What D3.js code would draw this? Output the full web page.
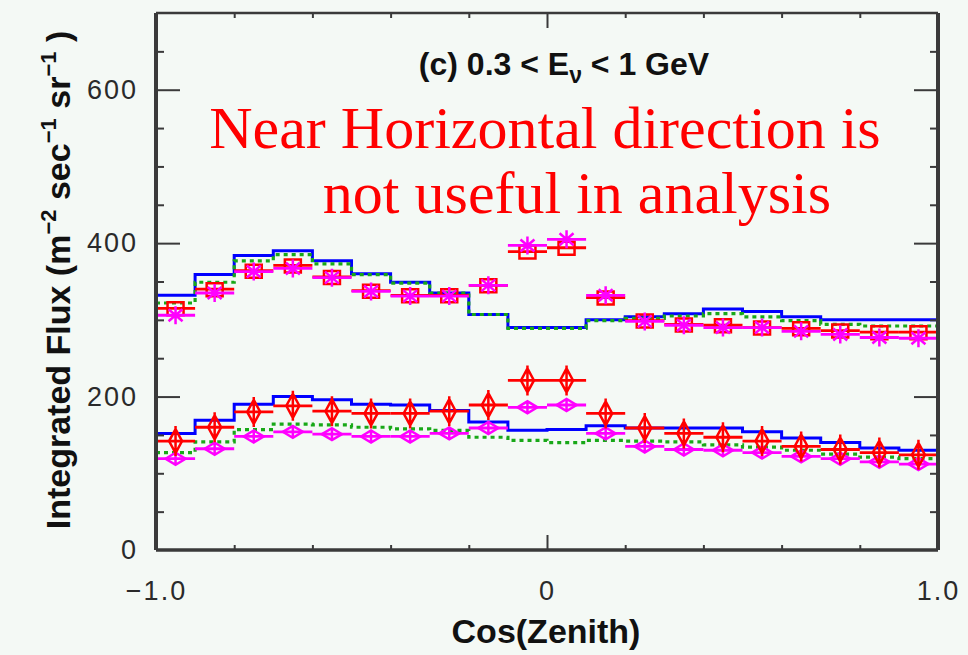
<!DOCTYPE html>
<html>
<head>
<meta charset="utf-8">
<script src="https://cdn.jsdelivr.net/npm/d3@7"></script>
<style>
  body { margin: 0; background: #f4f9f5; }
  svg { display: block; }
</style>
</head>
<body>
<div id="chart"></div>
<script>
// centres des bins en cos(zenith)
const cosZ = [-0.95, -0.85, -0.75, -0.65, -0.55, -0.45, -0.35, -0.25, -0.15, -0.05,
              0.05, 0.15, 0.25, 0.35, 0.45, 0.55, 0.65, 0.75, 0.85, 0.95];
const binHalf = 0.05;

// groupe du haut
const mcBlueUp   = [332, 359, 384, 390, 377, 360, 349, 335, 307, 290, 290, 300, 304, 308, 314, 311, 304, 300, 300, 300];
const mcGreenUp  = [322, 349, 377, 385, 373, 359, 348, 335, 307, 289, 289, 299, 302, 305, 308, 304, 299, 294, 292, 292];
const dataSquare = [315, 340, 364, 371, 356, 338, 332, 332, 345, 389, 394, 329, 299, 294, 293, 290, 289, 286, 284, 284];
const dataStar   = [306, 335, 363, 367, 355, 337, 331, 331, 345, 397, 405, 332, 298, 293, 290, 290, 285, 281, 277, 276];

// groupe du bas
const mcBlueLow  = [152, 169, 190, 200, 196, 190, 189, 182, 167, 156, 157, 162, 159, 159, 159, 154, 146, 140, 133, 130];
const mcGreenLow = [127, 141, 157, 164, 163, 160, 158, 156, 147, 143, 140, 143, 142, 141, 137, 134, 130, 125, 121, 119];
const dataDiaRed = [142, 160, 180, 188, 181, 178, 178, 181, 189, 221, 221, 178, 159, 152, 147, 142, 135, 131, 127, 124];
const dataDiaMag = [119, 132, 148, 154, 151, 148, 148, 152, 159, 186, 189, 152, 135, 131, 130, 127, 122, 119, 115, 112];

const xTickVals = [-1, 0, 1];
const xTickLabels = ["\u22121.0", "0", "1.0"];
const yTickVals = [0, 200, 400, 600];

const W = 968, H = 655;
const margin = { top: 13, right: 30, bottom: 105, left: 156 };
const width = W - margin.left - margin.right,
      height = H - margin.top - margin.bottom;

const svg = d3.select("#chart").append("svg")
    .attr("width", W)
    .attr("height", H)
    .style("background", "#f4f9f5");

const g = svg.append("g")
    .attr("transform", `translate(${margin.left},${margin.top})`);

const x = d3.scaleLinear().domain([-1, 1]).range([0, width]);
const y = d3.scaleLinear().domain([0, 700]).range([height, 0]);

// histogrammes en escalier
function stepPoints(vals) {
    const pts = [];
    vals.forEach((v, i) => {
        pts.push([cosZ[i] - binHalf, v]);
        pts.push([cosZ[i] + binHalf, v]);
    });
    return pts;
}
const stepLine = d3.line().x(d => x(d[0])).y(d => y(d[1]));

[mcBlueUp, mcBlueLow].forEach(vals => {
    g.append("path")
        .datum(stepPoints(vals))
        .attr("fill", "none")
        .attr("stroke", "#0000ff")
        .attr("stroke-width", 3)
        .attr("d", stepLine);
});
[mcGreenUp, mcGreenLow].forEach(vals => {
    g.append("path")
        .datum(stepPoints(vals))
        .attr("fill", "none")
        .attr("stroke", "#18a818")
        .attr("stroke-width", 3.2)
        .attr("stroke-dasharray", "4,4")
        .attr("d", stepLine);
});

// barres d'erreur horizontales + marqueurs
function drawPoints(vals, color, shape) {
    const grp = g.append("g");
    vals.forEach((v, i) => {
        grp.append("line")
            .attr("x1", x(cosZ[i] - binHalf))
            .attr("x2", x(cosZ[i] + binHalf))
            .attr("y1", y(v))
            .attr("y2", y(v))
            .attr("stroke", color)
            .attr("stroke-width", 2.8);
        grp.append("path")
            .attr("transform", `translate(${x(cosZ[i])},${y(v)})`)
            .attr("d", shape)
            .attr("fill", "none")
            .attr("stroke", color)
            .attr("stroke-width", 2.5);
    });
}

const squareShape = "M-8,-6H8V7H-8Z";
const starShape = "M-7,-6L7,6M-7,6L7,-6M0,-9V9";
const tallDiamond = "M0,-12L6.5,0L0,12L-6.5,0Z M0,-15V15";
const flatDiamond = "M-10,0L0,-6L10,0L0,6Z M0,-6V6";

drawPoints(dataSquare, "#ff0000", squareShape);
drawPoints(dataStar, "#ff00ff", starShape);
drawPoints(dataDiaMag, "#ff00ff", flatDiamond);
drawPoints(dataDiaRed, "#ff0000", tallDiamond);

// cadre
const frameColor = "#3a3a3a";
g.append("line").attr("x1", 0).attr("x2", width).attr("y1", 0).attr("y2", 0)
    .attr("stroke", frameColor).attr("stroke-width", 2.5);
g.append("line").attr("x1", 0).attr("x2", width).attr("y1", height).attr("y2", height)
    .attr("stroke", frameColor).attr("stroke-width", 3.5);
g.append("line").attr("x1", 0).attr("x2", 0).attr("y1", 0).attr("y2", height)
    .attr("stroke", frameColor).attr("stroke-width", 4);
g.append("line").attr("x1", width).attr("x2", width).attr("y1", 0).attr("y2", height)
    .attr("stroke", frameColor).attr("stroke-width", 4);

// graduations vers l'intérieur
function ticks(axis, transform, vals, size) {
    const a = g.append("g")
        .attr("transform", transform)
        .call(axis.tickValues(vals).tickSize(size).tickFormat(""));
    a.select(".domain").remove();
    a.selectAll("line").attr("stroke", frameColor).attr("stroke-width", 2);
}
const xMinor = [-0.8, -0.6, -0.4, -0.2, 0.2, 0.4, 0.6, 0.8];
ticks(d3.axisBottom(x), `translate(0,${height})`, xMinor, -5);
ticks(d3.axisBottom(x), `translate(0,${height})`, [0], -15);
ticks(d3.axisTop(x), "translate(0,0)", xMinor, -5);
ticks(d3.axisTop(x), "translate(0,0)", [0], -15);

const yMinor = d3.range(50, 700, 50).filter(v => v % 200 !== 0);
ticks(d3.axisLeft(y), "translate(0,0)", yMinor, -8);
ticks(d3.axisLeft(y), "translate(0,0)", [200, 400, 600], -24);
ticks(d3.axisRight(y), `translate(${width},0)`, yMinor, -8);
ticks(d3.axisRight(y), `translate(${width},0)`, [200, 400, 600], -24);

// libellés des axes
const xLab = g.append("g")
    .attr("transform", `translate(0,${height})`)
    .call(d3.axisBottom(x).tickValues(xTickVals).tickSize(0).tickPadding(31)
        .tickFormat((d, i) => xTickLabels[i]));
xLab.select(".domain").remove();
xLab.selectAll("text")
    .style("font-family", "Liberation Sans, Arial, sans-serif")
    .style("font-size", "27px")
    .style("letter-spacing", "2px")
    .attr("fill", "#2a2a2a");

const yLab = g.append("g")
    .call(d3.axisLeft(y).tickValues(yTickVals).tickSize(0).tickPadding(18));
yLab.select(".domain").remove();
yLab.selectAll("text")
    .style("font-family", "Liberation Sans, Arial, sans-serif")
    .style("font-size", "27px")
    .style("letter-spacing", "2px")
    .attr("fill", "#2a2a2a");

// titres des axes
svg.append("text")
    .attr("x", 546)
    .attr("y", 643)
    .attr("text-anchor", "middle")
    .style("font-family", "Liberation Sans, Arial, sans-serif")
    .style("font-weight", "bold")
    .style("font-size", "34px")
    .attr("fill", "#111")
    .text("Cos(Zenith)");

const yTitle = svg.append("text")
    .attr("transform", "translate(70,280) rotate(-90)")
    .attr("text-anchor", "middle")
    .style("font-family", "Liberation Sans, Arial, sans-serif")
    .style("font-weight", "bold")
    .style("font-size", "34px")
    .attr("fill", "#111");
yTitle.append("tspan").text("Integrated Flux (m");
yTitle.append("tspan").attr("dy", -14).style("font-size", "22px").text("\u22122");
yTitle.append("tspan").attr("dy", 14).text(" sec");
yTitle.append("tspan").attr("dy", -14).style("font-size", "22px").text("\u22121");
yTitle.append("tspan").attr("dy", 14).text(" sr");
yTitle.append("tspan").attr("dy", -14).style("font-size", "22px").text("\u22121");
yTitle.append("tspan").attr("dy", 14).text(" )");

// titre du panneau
const title = svg.append("text")
    .attr("x", 564)
    .attr("y", 75)
    .attr("text-anchor", "middle")
    .style("font-family", "Liberation Sans, Arial, sans-serif")
    .style("font-weight", "bold")
    .style("font-size", "32px")
    .attr("fill", "#111");
title.append("tspan").text("(c)  0.3 < E");
title.append("tspan").attr("dy", 8).style("font-size", "23px").text("\u03bd");
title.append("tspan").attr("dy", -8).text(" < 1 GeV");

// annotation rouge
svg.append("text")
    .attr("x", 545)
    .attr("y", 148)
    .attr("text-anchor", "middle")
    .style("font-family", "Liberation Serif, Times New Roman, serif")
    .style("font-size", "60px")
    .attr("fill", "#ff0000")
    .text("Near Horizontal direction is");
svg.append("text")
    .attr("x", 577)
    .attr("y", 213)
    .attr("text-anchor", "middle")
    .style("font-family", "Liberation Serif, Times New Roman, serif")
    .style("font-size", "60px")
    .attr("fill", "#ff0000")
    .text("not useful in analysis");
</script>
</body>
</html>
